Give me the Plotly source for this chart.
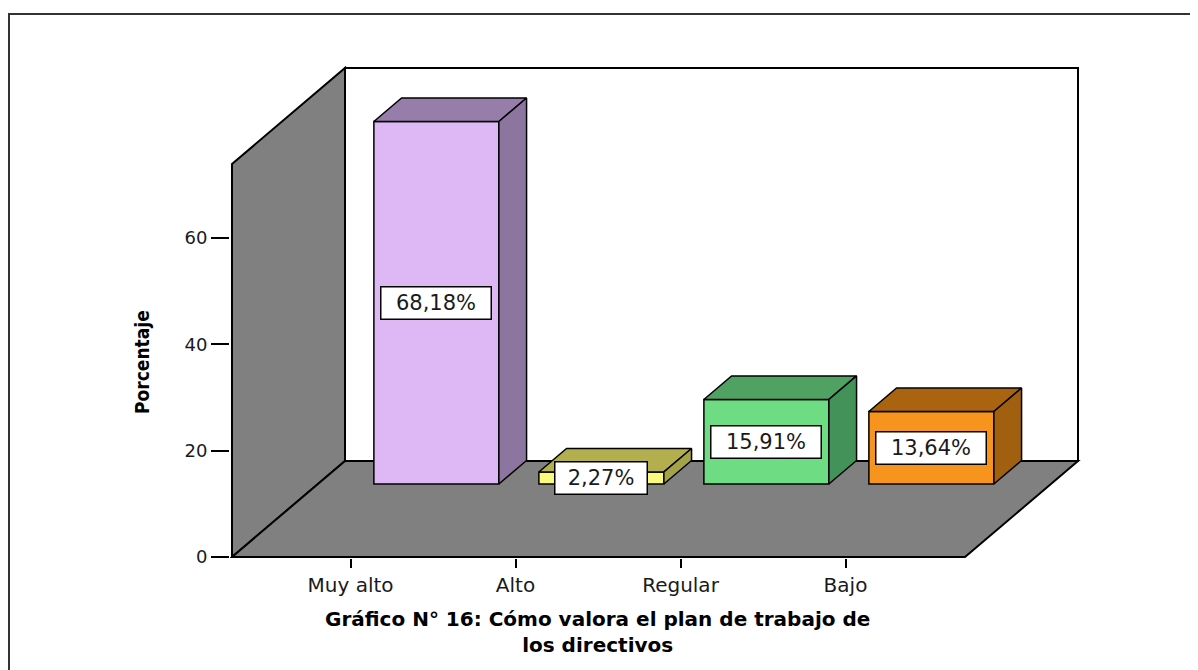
import plotly.graph_objects as go

# ---------------- data ----------------
categories = ["Muy alto", "Alto", "Regular", "Bajo"]
percentages = [68.18, 2.27, 15.91, 13.64]
value_labels = ["68,18%", "2,27%", "15,91%", "13,64%"]
y_ticks = [0, 20, 40, 60]
front_colors = ["#DDB8F4", "#FAFA80", "#6EDC82", "#F7941D"]
top_colors = ["#977EAA", "#B3AF4E", "#4FA262", "#AA6410"]
side_colors = ["#8C76A0", "#A5A347", "#43925A", "#A0600F"]
title_lines = ["Gráfico N° 16: Cómo valora el plan de trabajo de", "los directivos"]
y_title = "Porcentaje"

# ---------------- geometry (reference pixels) ----------------
OFF = 8                                   # page body margin
W_REF, H_REF = 1198, 670
PL, PR, PT, PB = 230, 1085, 60, 558       # plot area in reference pixels
Y0_PX = 557                               # pixel of y = 0
X_PX0, X_STEP = 350.5, 165.0              # pixel of category 0, spacing
Y_SCALE = 319 / 60                        # px per percent unit

x_range = [(PL - X_PX0) / X_STEP, (PR - X_PX0) / X_STEP]
y_range = [(Y0_PX - PB) / Y_SCALE, (Y0_PX - PT) / Y_SCALE]

DXu = 113 / X_STEP          # depth offset in x units
DYu = 96 / Y_SCALE          # depth offset in y units
X_WALL = (232 - X_PX0) / X_STEP
WALL_H = 393 / Y_SCALE
FLOOR_R = (965 - X_PX0) / X_STEP
F_FRONT = 0.76              # bar front face depth fraction
F_DEPTH = 0.245             # bar depth fraction
BAR_W = 125 / X_STEP

def px_x(p):
    return (p - PL) / (PR - PL)

def px_y(p):
    return (PB - p) / (PB - PT)

FONT = "DejaVu Sans, Arial, sans-serif"

fig = go.Figure()

# walls / floor
shapes = []
shapes.append(dict(type="path", layer="below", xref="x", yref="y",
                   path=f"M {X_WALL},0 L {X_WALL},{WALL_H} L {X_WALL+DXu},{WALL_H+DYu} L {X_WALL+DXu},{DYu} Z",
                   fillcolor="#808080", line=dict(color="#000000", width=2)))
shapes.append(dict(type="path", layer="below", xref="x", yref="y",
                   path=f"M {X_WALL},0 L {FLOOR_R},0 L {FLOOR_R+DXu},{DYu} L {X_WALL+DXu},{DYu} Z",
                   fillcolor="#808080", line=dict(color="#000000", width=2)))
shapes.append(dict(type="rect", layer="below", xref="x", yref="y",
                   x0=X_WALL + DXu, y0=DYu, x1=FLOOR_R + DXu, y1=WALL_H + DYu,
                   fillcolor="#FFFFFF", line=dict(color="#000000", width=2)))
# outer frame
shapes.append(dict(type="rect", layer="above", xref="paper", yref="paper",
                   x0=px_x(9), y0=px_y(14), x1=px_x(1230), y1=px_y(700),
                   fillcolor="rgba(0,0,0,0)", line=dict(color="#333333", width=2)))

# bar front faces
xs_front = [i + F_FRONT * DXu for i in range(len(categories))]
base = F_FRONT * DYu
fig.add_trace(go.Bar(
    x=xs_front, y=percentages, base=[base] * len(percentages), width=BAR_W,
    marker=dict(color=front_colors, line=dict(color="#000000", width=1.5)),
    hoverinfo="skip", showlegend=False))

ddx = F_DEPTH * DXu
ddy = F_DEPTH * DYu
for xc, v, tc, sc in zip(xs_front, percentages, top_colors, side_colors):
    xl, xr = xc - BAR_W / 2, xc + BAR_W / 2
    top = base + v
    # top face
    fig.add_trace(go.Scatter(
        x=[xl, xl + ddx, xr + ddx, xr, xl], y=[top, top + ddy, top + ddy, top, top],
        mode="lines", fill="toself", fillcolor=tc,
        line=dict(color="#000000", width=1.5), hoverinfo="skip", showlegend=False))
    # side face
    fig.add_trace(go.Scatter(
        x=[xr, xr, xr + ddx, xr + ddx, xr], y=[base, top, top + ddy, base + ddy, base],
        mode="lines", fill="toself", fillcolor=sc,
        line=dict(color="#000000", width=1.5), hoverinfo="skip", showlegend=False))

annotations = []
for xc, v, lab in zip(xs_front, percentages, value_labels):
    annotations.append(dict(
        x=xc, y=base + v / 2, xref="x", yref="y", text=lab, showarrow=False,
        xanchor="center", yanchor="middle",
        font=dict(family=FONT, size=21, color="#1a1a1a"),
        bgcolor="#FFFFFF", bordercolor="#000000", borderwidth=1.5, borderpad=1,
        width=107 if len(lab) > 5 else 89, height=29))

annotations.append(dict(
    x=px_x(142), y=px_y(362), xref="paper", yref="paper", text=f"<b>{y_title}</b>",
    textangle=-90, showarrow=False, xanchor="center", yanchor="middle",
    font=dict(family="Liberation Sans Narrow, Arial Narrow, DejaVu Sans Condensed, DejaVu Sans, sans-serif",
              size=19, color="#000000")))
annotations.append(dict(
    x=px_x(597), y=px_y(632), xref="paper", yref="paper",
    text="<b>" + "<br>".join(title_lines) + "</b>",
    showarrow=False, xanchor="center", yanchor="middle", align="center",
    font=dict(family=FONT, size=20, color="#000000")))

fig.update_layout(
    width=W_REF - OFF, height=H_REF - OFF,
    margin=dict(l=PL - OFF, r=W_REF - PR, t=PT - OFF, b=H_REF - PB, pad=0),
    paper_bgcolor="#FFFFFF", plot_bgcolor="rgba(0,0,0,0)",
    shapes=shapes, annotations=annotations, showlegend=False,
    xaxis=dict(range=x_range, tickvals=list(range(len(categories))), ticktext=categories,
               ticks="outside", ticklen=9, tickwidth=1.5, tickcolor="#000000",
               showgrid=False, zeroline=False, showline=False, fixedrange=True,
               tickfont=dict(family=FONT, size=20, color="#1a1a1a")),
    yaxis=dict(range=y_range, tickvals=y_ticks, ticks="outside", ticklen=18, tickwidth=2,
               tickcolor="#000000", showgrid=False, zeroline=False, showline=False,
               fixedrange=True, tickfont=dict(family=FONT, size=18, color="#1a1a1a")),
)

fig.write_html("out.html")
